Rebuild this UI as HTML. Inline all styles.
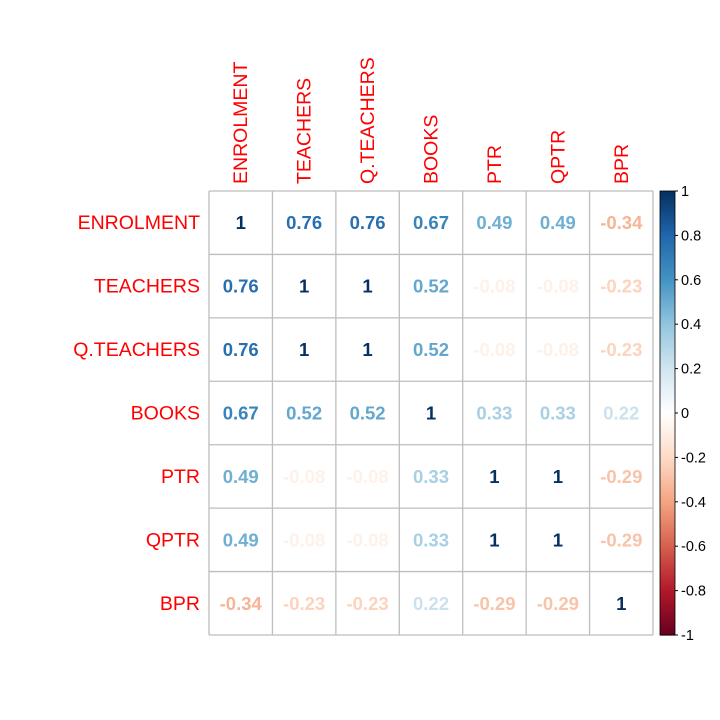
<!DOCTYPE html>
<html><head><meta charset="utf-8"><style>
body{margin:0;background:#fff}
svg{display:block;font-family:"Liberation Sans",Arial,sans-serif}
</style></head><body>
<svg id="chart" width="720" height="720"></svg>
<script>
const labels=["ENROLMENT","TEACHERS","Q.TEACHERS","BOOKS","PTR","QPTR","BPR"];
const row0=[1,0.76,0.76,0.67,0.49,0.49,-0.34];
const row1=[0.76,1,1,0.52,-0.08,-0.08,-0.23];
const row2=[0.76,1,1,0.52,-0.08,-0.08,-0.23];
const row3=[0.67,0.52,0.52,1,0.33,0.33,0.22];
const row4=[0.49,-0.08,-0.08,0.33,1,1,-0.29];
const row5=[0.49,-0.08,-0.08,0.33,1,1,-0.29];
const row6=[-0.34,-0.23,-0.23,0.22,-0.29,-0.29,1];
const matrix=[row0,row1,row2,row3,row4,row5,row6];
const legendTicks=[1,0.8,0.6,0.4,0.2,0,-0.2,-0.4,-0.6,-0.8,-1];
const legendTickLabels=["1","0.8","0.6","0.4","0.2","0","-0.2","-0.4","-0.6","-0.8","-1"];

const NS="http://www.w3.org/2000/svg";
const svg=document.getElementById('chart');
const L=209,T=191,R=653,B=635,n=labels.length;
const cw=(R-L)/n,ch=(B-T)/n;
const xPos=j=>L+j*cw, yPos=i=>T+i*ch;
const pal=["#67001F","#B2182B","#D6604D","#F4A582","#FDDBC7","#FFFFFF","#D1E5F0","#92C5DE","#4393C3","#2166AC","#053061"];
function hex(h){return [1,3,5].map(k=>parseInt(h.substr(k,2),16));}
function color(v){
  let t=(v+1)/2*(pal.length-1);let i=Math.min(Math.floor(t),pal.length-2);let f=t-i;
  const a=hex(pal[i]),b=hex(pal[i+1]);
  return "rgb("+a.map((x,k)=>Math.round(x+(b[k]-x)*f)).join(",")+")";
}
function mk(tag,attrs,txt){const e=document.createElementNS(NS,tag);for(const k in attrs)e.setAttribute(k,attrs[k]);if(txt!==undefined)e.textContent=txt;svg.appendChild(e);return e;}

for(let k=0;k<=n;k++){
  let e=mk('line',{x1:xPos(k),x2:xPos(k),y1:T,y2:B,stroke:'#BEBEBE','stroke-width':1.3});
  
  
  e=mk('line',{x1:L,x2:R,y1:yPos(k),y2:yPos(k),stroke:'#BEBEBE','stroke-width':1.3});
  
  
}
for(let i=0;i<n;i++)for(let j=0;j<n;j++){
  const v=matrix[i][j];
  const e=mk('text',{x:xPos(j)+cw/2,y:yPos(i)+ch/2+6.5,'text-anchor':'middle','font-size':18.5,'font-weight':'bold',fill:color(v)},String(v));
  
  
}
labels.forEach((lab,i)=>{
  let e=mk('text',{x:L-9,y:yPos(i)+ch/2+6.5,'text-anchor':'end','font-size':19.5,fill:'#FF0000'},lab);
  
  
  const cx=xPos(i)+cw/2+6.5,cy=T-7;
  e=mk('text',{x:cx,y:cy,'font-size':19.5,fill:'#FF0000',transform:`rotate(-90 ${cx} ${cy})`},lab);
  
  
});
const CL=660,CR=675,steps=200;
for(let s=0;s<steps;s++){
  const v1=1-2*s/steps,v=v1-1/steps;
  const e=mk('rect',{x:CL,y:T+(B-T)*s/steps,width:CR-CL,height:(B-T)/steps+0.6,fill:color(v)});
  
  
}
let cb=mk('rect',{x:CL,y:T,width:CR-CL,height:B-T,fill:'none',stroke:'#000','stroke-width':0.8});


const vY=v=>T+(1-v)/2*(B-T);
legendTicks.forEach((v,k)=>{
  let e=mk('line',{x1:CR,x2:CR+3,y1:vY(v),y2:vY(v),stroke:'#000','stroke-width':1});
  
  
  e=mk('text',{x:CR+6,y:vY(v)+5,'font-size':14.5,fill:'#000'},legendTickLabels[k]);
  
  
});
</script>
</body></html>
